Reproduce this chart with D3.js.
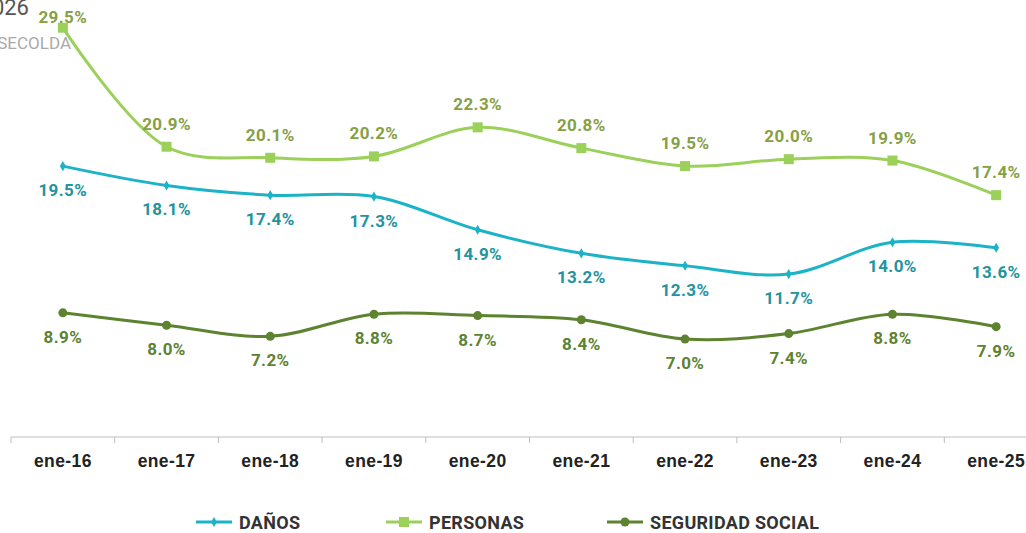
<!DOCTYPE html>
<html>
<head>
<meta charset="utf-8">
<script src="https://cdn.jsdelivr.net/npm/d3@7"></script>
<style>
  body { margin: 0; background: #fff; }
  svg { font-family: Roboto, "Noto Sans", sans-serif; }
  .axis text { font-size: 17.5px; font-weight: bold; fill: #222; letter-spacing: 0.4px; }
  .axis path, .axis line { stroke: #bfbfbf; }
  .val { font-size: 17px; font-weight: bold; text-anchor: middle; letter-spacing: 0.4px; }
  .leg { font-size: 18px; font-weight: bold; fill: #333; letter-spacing: 0.3px; }
</style>
</head>
<body>
<div class="chart"></div>
<script>
// Data
var categories = ["ene-16", "ene-17", "ene-18", "ene-19", "ene-20", "ene-21", "ene-22", "ene-23", "ene-24", "ene-25"];
var danos = [19.5, 18.1, 17.4, 17.3, 14.9, 13.2, 12.3, 11.7, 14.0, 13.6];
var personas = [29.5, 20.9, 20.1, 20.2, 22.3, 20.8, 19.5, 20.0, 19.9, 17.4];
var seguridad = [8.9, 8.0, 7.2, 8.8, 8.7, 8.4, 7.0, 7.4, 8.8, 7.9];
var seriesNames = ["DAÑOS", "PERSONAS", "SEGURIDAD SOCIAL"];

var svgWidth = 1026;
var svgHeight = 533;

var svg = d3.select(".chart")
  .append("svg")
  .attr("width", svgWidth)
  .attr("height", svgHeight);

// cropped title / source at top left
svg.append("text")
  .attr("x", 29).attr("y", 15)
  .attr("text-anchor", "end")
  .style("font-size", "22px")
  .style("fill", "#555")
  .text("2026");
svg.append("text")
  .attr("x", 71).attr("y", 49)
  .attr("text-anchor", "end")
  .style("font-size", "17px")
  .style("fill", "#aaa")
  .text("FASECOLDA");

var x = d3.scaleBand().domain(categories).range([11, 1048]);
var y = d3.scaleLinear().domain([0, 31.5]).range([436, 0]);

var series = [
  { name: seriesNames[0], values: danos, color: "#1cb3c6", label: "#23939e", marker: "diamond", dy: 30 },
  { name: seriesNames[1], values: personas, color: "#9bd05a", label: "#86a044", marker: "square", dy: -17 },
  { name: seriesNames[2], values: seguridad, color: "#5d8230", label: "#5d8230", marker: "circle", dy: 30 }
];

var cx = function(i) { return x(categories[i]) + x.bandwidth() / 2; };

var line = d3.line()
  .x(function(d, i) { return cx(i); })
  .y(function(d) { return y(d); })
  .curve(d3.curveCatmullRom.alpha(0.5));

function drawMarker(g, type, color, px, py) {
  if (type === "square") {
    g.append("rect").attr("x", px - 5).attr("y", py - 5).attr("width", 10).attr("height", 10).style("fill", color);
  } else if (type === "diamond") {
    g.append("path").attr("d", d3.symbol().type(d3.symbolDiamond).size(30)())
      .attr("transform", "translate(" + px + "," + py + ")").style("fill", color);
  } else {
    g.append("circle").attr("cx", px).attr("cy", py).attr("r", 4.5).style("fill", color);
  }
}

// x axis
var xAxis = d3.axisBottom(x).tickSize(0).tickPadding(18);
var gx = svg.append("g")
  .attr("class", "axis")
  .attr("transform", "translate(0,437)")
  .call(xAxis);
gx.select(".domain").attr("d", "M11,6V0H1048");
gx.selectAll(".bound")
  .data(categories.slice(1))
  .enter().append("line")
  .attr("x1", function(d) { return x(d); })
  .attr("x2", function(d) { return x(d); })
  .attr("y1", 0).attr("y2", 6);

series.forEach(function(s) {
  var g = svg.append("g");
  g.append("path")
    .datum(s.values)
    .attr("d", line)
    .style("fill", "none")
    .style("stroke", s.color)
    .style("stroke-width", 3);
  s.values.forEach(function(v, i) {
    drawMarker(g, s.marker, s.color, cx(i), y(v));
  });
  g.selectAll(".val")
    .data(s.values)
    .enter().append("text")
    .attr("class", "val")
    .attr("x", function(d, i) { return cx(i); })
    .attr("y", function(d) { return Math.max(y(d) + s.dy, 23); })
    .style("fill", s.label)
    .text(function(d) { return d.toFixed(1) + "%"; });
});

// legend
var legX = [196, 386, 607];
series.forEach(function(s, i) {
  var g = svg.append("g").attr("transform", "translate(" + legX[i] + ",522)");
  g.append("line").attr("x1", 0).attr("x2", 36).attr("y1", 0).attr("y2", 0)
    .style("stroke", s.color).style("stroke-width", 3);
  drawMarker(g, s.marker, s.color, 18, 0);
  g.append("text").attr("class", "leg").attr("x", 43).attr("y", 7).text(s.name);
});
</script>
</body>
</html>
